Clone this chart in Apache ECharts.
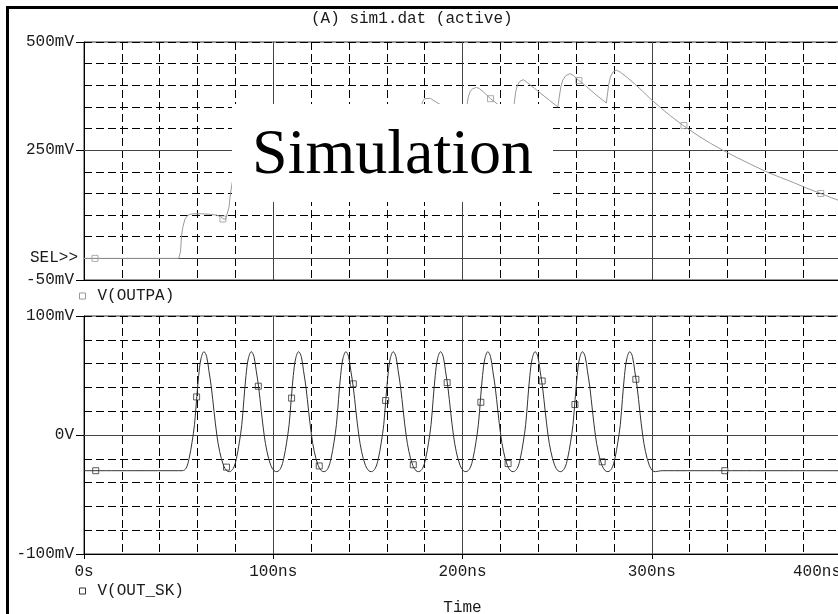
<!DOCTYPE html>
<html>
<head>
<meta charset="utf-8">
<script src="https://cdn.jsdelivr.net/npm/echarts@6/dist/echarts.min.js"></script>
<style>
  html, body { margin: 0; padding: 0; background: #fff; }
  #chart { width: 838px; height: 614px; }
</style>
</head>
<body>
<div id="chart"></div>
<script>
// ---- data -------------------------------------------------------------
// time axis, ns
const timeRange = [0, 400];
const timeLabels = { 0: '0s', 100: '100ns', 200: '200ns', 300: '300ns', 400: '400ns' };

// upper panel: V(OUTPA), mV
const outpaRange = [-50, 500];
const outpaTickValues = [-50, 250, 500];
const outpaTickLabels = { '-50': '-50mV', '250': '250mV', '500': '500mV' };
const outpaWave = [
  [0, 0], [50, 0], [50.6, 0], [51, 15], [51.5, 50], [52.2, 72], [53.3, 90], [54.5, 98], [56, 102], [58, 103],
  [62, 103], [66, 102], [70, 100], [72, 97], [73.4, 92], [74.8, 90], [75.8, 94],
  [76.6, 118], [77.4, 150], [78.2, 172], [79.2, 195], [80.3, 208], [81.8, 214], [84, 211], [90, 201], [96, 189], [101.8, 178],
  [102.6, 208], [103.4, 240], [104.3, 262], [105.4, 275], [107, 280], [110, 274], [116, 258], [122, 243], [126.8, 232],
  [127.6, 262], [128.4, 292], [129.3, 311], [130.4, 321], [132, 325], [135, 318], [141, 301], [147, 284], [151.8, 271],
  [152.6, 298], [153.4, 323], [154.3, 337], [155.4, 344], [157, 347], [160, 339], [166, 321], [172, 303], [176.8, 290],
  [177.6, 320], [178.3, 352], [179, 363], [180, 369], [181, 372], [183, 370], [185, 364], [188.1, 356], [193, 340], [198, 323], [201.6, 311],
  [202.3, 352], [203, 372], [204, 385], [205.3, 392], [207.4, 395], [209, 392], [211, 385], [214.8, 369], [218.7, 356], [222.5, 343], [226.6, 330],
  [227.4, 360], [228.1, 385], [229, 400], [230.3, 409], [232.1, 413], [234, 407], [238, 393], [242, 379], [246, 365], [250.4, 350],
  [251.2, 375], [252, 397], [253, 412], [254.5, 422], [256.7, 427], [258.5, 423], [261.5, 411], [265, 399], [270, 380], [276, 359],
  [276.7, 383], [277.4, 405], [278.3, 421], [279.6, 431], [281.4, 435], [283.5, 430], [287, 418], [291, 403], [295, 387], [299, 370],
  [305, 347], [310, 329], [316.6, 307], [325, 282], [331, 266], [337.5, 250], [345, 233], [352, 218], [360.6, 200], [368, 187],
  [375, 175], [382, 162], [389.3, 150], [395, 140], [400, 132]
];
const outpaMarks = [[5.8, 0], [73.4, 91], [214.8, 369], [261.5, 411], [317, 307], [389.3, 150]];

// lower panel: V(OUT_SK), mV
const outSkRange = [-100, 100];
const outSkTickValues = [-100, 0, 100];
const outSkTickLabels = { '-100': '-100mV', '0': '0V', '100': '100mV' };
const outSkWave = [
  [0, -30], [50, -30], [51.9, -30],
  [53.9, -28], [55.5, -20], [57.1, -6], [58.4, 9], [59.5, 30], [60.6, 50], [61.8, 64], [63.4, 70], [64.8, 66], [66, 54], [67.3, 40], [68.7, 20], [70.2, 0], [71.7, -14], [73.7, -25.5], [75.4, -30], [76.9, -30.8],
  [78.9, -28], [80.5, -20], [82.1, -6], [83.4, 9], [84.5, 30], [85.6, 50], [86.8, 64], [88.4, 70], [89.8, 66], [91, 54], [92.3, 40], [93.7, 20], [95.2, 0], [96.7, -14], [98.7, -25.5], [100.4, -30], [101.9, -30.8],
  [103.9, -28], [105.5, -20], [107.1, -6], [108.4, 9], [109.5, 30], [110.6, 50], [111.8, 64], [113.4, 70], [114.8, 66], [116, 54], [117.3, 40], [118.7, 20], [120.2, 0], [121.7, -14], [123.7, -25.5], [125.4, -30], [126.9, -30.8],
  [128.9, -28], [130.5, -20], [132.1, -6], [133.4, 9], [134.5, 30], [135.6, 50], [136.8, 64], [138.4, 70], [139.8, 66], [141, 54], [142.3, 40], [143.7, 20], [145.2, 0], [146.7, -14], [148.7, -25.5], [150.4, -30], [151.9, -30.8],
  [153.9, -28], [155.5, -20], [157.1, -6], [158.4, 9], [159.5, 30], [160.6, 50], [161.8, 64], [163.4, 70], [164.8, 66], [166, 54], [167.3, 40], [168.7, 20], [170.2, 0], [171.7, -14], [173.7, -25.5], [175.4, -30], [176.9, -30.8],
  [178.9, -28], [180.5, -20], [182.1, -6], [183.4, 9], [184.5, 30], [185.6, 50], [186.8, 64], [188.4, 70], [189.8, 66], [191, 54], [192.3, 40], [193.7, 20], [195.2, 0], [196.7, -14], [198.7, -25.5], [200.4, -30], [201.9, -30.8],
  [203.9, -28], [205.5, -20], [207.1, -6], [208.4, 9], [209.5, 30], [210.6, 50], [211.8, 64], [213.4, 70], [214.8, 66], [216, 54], [217.3, 40], [218.7, 20], [220.2, 0], [221.7, -14], [223.7, -25.5], [225.4, -30], [226.9, -30.8],
  [228.9, -28], [230.5, -20], [232.1, -6], [233.4, 9], [234.5, 30], [235.6, 50], [236.8, 64], [238.4, 70], [239.8, 66], [241, 54], [242.3, 40], [243.7, 20], [245.2, 0], [246.7, -14], [248.7, -25.5], [250.4, -30], [251.9, -30.8],
  [253.9, -28], [255.5, -20], [257.1, -6], [258.4, 9], [259.5, 30], [260.6, 50], [261.8, 64], [263.4, 70], [264.8, 66], [266, 54], [267.3, 40], [268.7, 20], [270.2, 0], [271.7, -14], [273.7, -25.5], [275.4, -30], [276.9, -30.8],
  [278.9, -28], [280.5, -20], [282.1, -6], [283.4, 9], [284.5, 30], [285.6, 50], [286.8, 64], [288.4, 70], [289.8, 66], [291, 54], [292.3, 40], [293.7, 20], [295.2, 0], [296.7, -14], [298.7, -25.5], [300.4, -30], [301.9, -30.8],
  [303.5, -30.4], [305.5, -30], [400, -30]
];
const outSkMarks = [
  [6.2, -30], [59.5, 32], [75.3, -27], [92.1, 41], [109.7, 31], [124.3, -26], [142.3, 43], [159.4, 29], [174, -25],
  [191.9, 44], [209.7, 27.5], [224.1, -24], [242.1, 45.4], [259.4, 25.6], [273.8, -22.5], [291.6, 46.8], [338.6, -30]
];

// ---- styling ----------------------------------------------------------
const MONO = '"Courier New", "Liberation Mono", monospace';
const INK = '#1a1a1a';
const SOLID = '#444';
const DASH = { color: '#000', width: 1, type: [8, 4] };
const PLOT_LEFT = 84, PLOT_WIDTH = 757;

function timeAxis(gridIndex, withLabels) {
  return {
    type: 'value', gridIndex: gridIndex,
    min: timeRange[0], max: timeRange[1], interval: 100,
    name: withLabels ? 'Time' : '',
    nameLocation: 'middle', nameGap: 46,
    nameTextStyle: { fontFamily: MONO, fontSize: 16, color: INK },
    axisLine: { show: true, onZero: false, lineStyle: { color: '#000', width: 1 } },
    axisTick: { show: withLabels, length: 5, lineStyle: { color: '#000' } },
    axisLabel: {
      show: withLabels, margin: 10, fontFamily: MONO, fontSize: 16, color: INK,
      alignMaxLabel: 'right',
      formatter: v => timeLabels[v] !== undefined ? timeLabels[v] : ''
    },
    splitLine: { show: true, lineStyle: { color: SOLID, width: 1, type: 'solid' } },
    minorTick: { show: false, splitNumber: 5 },
    minorSplitLine: { show: true, lineStyle: DASH }
  };
}

// labelled voltage axis: ticks and labels only at the named values
function voltAxis(gridIndex, range, step, tickValues, tickLabels) {
  return {
    type: 'value', gridIndex: gridIndex, position: 'left',
    min: range[0], max: range[1], interval: step,
    axisLine: { show: true, onZero: false, lineStyle: { color: '#000', width: 1 } },
    axisTick: { show: true, length: 8, customValues: tickValues, lineStyle: { color: '#000' } },
    axisLabel: {
      show: true, margin: 10, fontFamily: MONO, fontSize: 16, color: INK,
      customValues: tickValues,
      formatter: v => tickLabels[String(v)] !== undefined ? tickLabels[String(v)] : ''
    },
    splitLine: { show: false }
  };
}

// companion axis carrying the dashed horizontal grid
function voltGridAxis(gridIndex, range, step) {
  return {
    type: 'value', gridIndex: gridIndex, position: 'left',
    min: range[0], max: range[1], interval: step,
    axisLine: { show: false }, axisTick: { show: false }, axisLabel: { show: false },
    splitLine: { show: true, lineStyle: DASH }
  };
}

function solidRefLines(values) {
  return {
    z: 1, silent: true, symbol: 'none', label: { show: false },
    lineStyle: { color: SOLID, width: 1, type: 'solid' },
    emphasis: { disabled: true },
    data: values.map(v => ({ yAxis: v }))
  };
}

const legendIcon = 'path://M0,0L10,0L10,10L0,10Z';
const gridBase = {
  left: PLOT_LEFT, width: PLOT_WIDTH, height: 238,
  show: true, borderColor: '#333', borderWidth: 1,
  containLabel: false, outerBoundsMode: 'none'
};

const chart = echarts.init(document.getElementById('chart'), null, { renderer: 'canvas' });
chart.setOption({
  animation: false,
  backgroundColor: '#fff',
  title: {
    text: '(A) sim1.dat (active)', left: 311, top: 11, padding: 0,
    textStyle: { fontFamily: MONO, fontSize: 16, fontWeight: 'normal', color: INK }
  },
  grid: [
    Object.assign({ top: 42 }, gridBase),
    Object.assign({ top: 316 }, gridBase)
  ],
  xAxis: [timeAxis(0, false), timeAxis(1, true)],
  yAxis: [
    voltAxis(0, outpaRange, 50, outpaTickValues, outpaTickLabels),
    voltAxis(1, outSkRange, 20, outSkTickValues, outSkTickLabels),
    voltGridAxis(0, outpaRange, 50),
    voltGridAxis(1, outSkRange, 20)
  ],
  legend: [
    {
      data: ['V(OUTPA)'], left: 79, top: 288, padding: 0, selectedMode: false,
      itemWidth: 20, itemHeight: 6, icon: legendIcon, symbolKeepAspect: true,
      itemStyle: { color: '#fff', borderColor: '#999', borderWidth: 1 },
      textStyle: { fontFamily: MONO, fontSize: 16, color: INK }
    },
    {
      data: ['V(OUT_SK)'], left: 79, top: 583, padding: 0, selectedMode: false,
      itemWidth: 20, itemHeight: 6, icon: legendIcon, symbolKeepAspect: true,
      itemStyle: { color: '#fff', borderColor: '#333', borderWidth: 1 },
      textStyle: { fontFamily: MONO, fontSize: 16, color: INK }
    }
  ],
  series: [
    {
      name: 'V(OUTPA)', type: 'line', xAxisIndex: 0, yAxisIndex: 0, z: 3,
      data: outpaWave, showSymbol: false, smooth: false,
      lineStyle: { color: '#9a9a9a', width: 1 }, itemStyle: { color: '#9a9a9a' },
      markLine: solidRefLines([0, 250])
    },
    {
      name: 'V(OUTPA)', type: 'scatter', xAxisIndex: 0, yAxisIndex: 0, z: 4,
      data: outpaMarks, symbol: 'rect', symbolSize: 6,
      itemStyle: { color: 'rgba(0,0,0,0)', borderColor: '#9a9a9a', borderWidth: 1 }
    },
    {
      name: 'V(OUT_SK)', type: 'line', xAxisIndex: 1, yAxisIndex: 1, z: 3,
      data: outSkWave, showSymbol: false, smooth: 0.35,
      lineStyle: { color: '#333', width: 1 }, itemStyle: { color: '#333' },
      markLine: solidRefLines([0])
    },
    {
      name: 'V(OUT_SK)', type: 'scatter', xAxisIndex: 1, yAxisIndex: 1, z: 4,
      data: outSkMarks, symbol: 'rect', symbolSize: 6,
      itemStyle: { color: 'rgba(0,0,0,0)', borderColor: '#333', borderWidth: 1 }
    }
  ],
  graphic: [
    // window frame
    { type: 'rect', shape: { x: 6, y: 6, width: 832, height: 3 }, style: { fill: '#000' }, silent: true },
    { type: 'rect', shape: { x: 6, y: 6, width: 3, height: 608 }, style: { fill: '#000' }, silent: true },
    // selection marker on the upper panel
    {
      type: 'text', x: 78, y: 258, silent: true,
      style: { text: 'SEL>>', font: '16px ' + MONO, fill: INK, align: 'right', verticalAlign: 'middle' }
    },
    // caption panel
    { type: 'rect', z: 100, shape: { x: 232, y: 104, width: 321, height: 98 }, style: { fill: '#fff' }, silent: true },
    {
      type: 'text', z: 101, x: 392.5, y: 156, silent: true,
      style: { text: 'Simulation', font: '64px "Liberation Serif", "Times New Roman", serif', fill: '#000', align: 'center', verticalAlign: 'middle' }
    }
  ]
});
</script>
</body>
</html>
